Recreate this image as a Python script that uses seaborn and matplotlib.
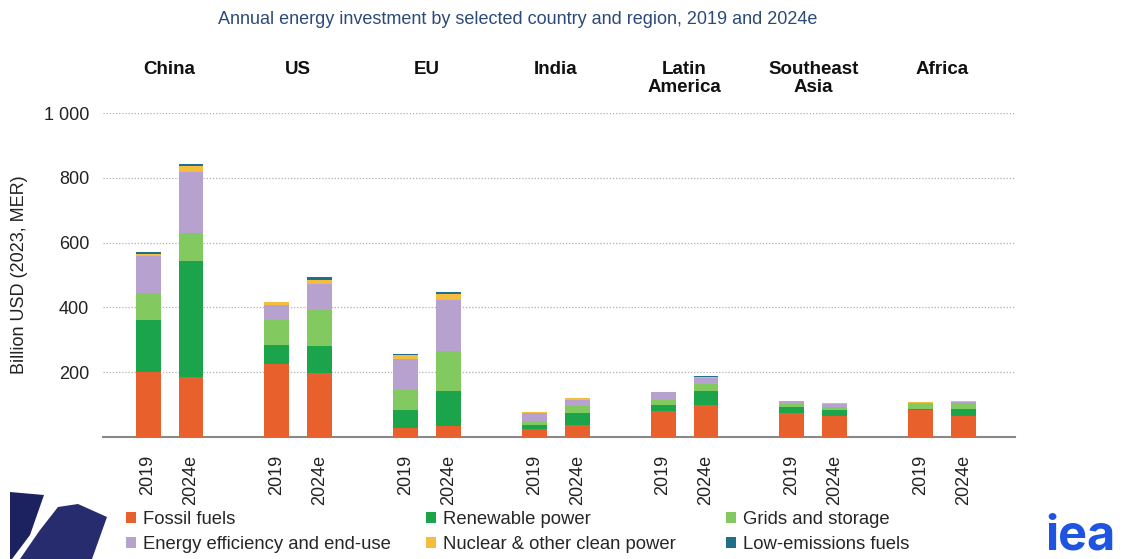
import numpy as np
import pandas as pd
import matplotlib
matplotlib.use("Agg")
import matplotlib.pyplot as plt
from matplotlib.patches import Patch, Polygon
import matplotlib.transforms as mtransforms
import seaborn as sns

# ---------------- data ----------------
regions = ["China", "US", "EU", "India", "Latin\nAmerica", "Southeast\nAsia", "Africa"]
years = ["2019", "2024e"]
categories = ["Fossil fuels", "Renewable power", "Grids and storage",
              "Energy efficiency and end-use", "Nuclear & other clean power",
              "Low-emissions fuels"]

# values per bar, order: China 2019, China 2024e, US 2019, US 2024e, ...
fossil     = [200, 185, 225, 198,  28,  35,  26,  37,  80, 100,  75,  66,  82,  66]
renewable  = [160, 357,  58,  82,  55, 108,  10,  36,  20,  43,  17,  17,   5,  21]
grids      = [ 83,  89,  77, 111,  62, 121,  14,  23,  13,  22,  11,  11,  16,  17]
efficiency = [115, 187,  47,  82,  97, 160,  25,  18,  25,  18,   8,   9,   3,   5]
nuclear    = [  8,  17,  10,  12,  12,  16,   1,   5,   2,   3,   1,   1,   1,   1]
lowem      = [  4,   8,   1,  10,   1,   6,   0,   1,   0,   1,   0,   1,   0,   0]

colors = ["#E8612C", "#1BA44B", "#82C95F", "#B7A2CF", "#F5BD3F", "#1F6F8B"]

# ---------------- build table ----------------
series = [fossil, renewable, grids, efficiency, nuclear, lowem]
rows = []
for i, r in enumerate(regions):
    for j, y in enumerate(years):
        k = i * 2 + j
        cum = 0
        for c, s in zip(categories, series):
            cum += s[k]
            rows.append({"bar": f"{r}|{y}", "region": r, "year": y,
                         "category": c, "top": cum})
df = pd.DataFrame(rows)

order = []
for i, r in enumerate(regions):
    order += [f"{r}|2019", f"{r}|2024e"]
    if i < len(regions) - 1:
        order.append(f"gap{i}")

# ---------------- figure ----------------
sns.set_theme(style="white")
plt.rcParams["font.family"] = ["Liberation Sans", "DejaVu Sans"]

fig = plt.figure(figsize=(11.42, 5.59), dpi=100)
W, H = 1142, 559
ax = fig.add_axes([103 / W, 1 - 437 / H, (1015 - 103) / W, (437 - 113) / H])

for c, col in reversed(list(zip(categories, colors))):
    sub = df[df["category"] == c]
    sns.barplot(data=sub, x="bar", y="top", order=order, color=col,
                width=0.58, saturation=1, ax=ax, linewidth=0, zorder=3)

ax.set_xlim(-1.05, len(order) + 0.2)
ax.set_ylim(0, 1000)
ax.set_yticks([200, 400, 600, 800, 1000])
ax.set_yticklabels(["200", "400", "600", "800", "1 000"], fontsize=13, color="#222222")
ax.tick_params(axis="y", length=0, pad=10)
ax.yaxis.grid(True, linestyle=(0, (1, 1.5)), color="#b0b0b0", linewidth=0.9, zorder=0)
ax.set_axisbelow(True)
for s in ["top", "right", "left"]:
    ax.spines[s].set_visible(False)
ax.spines["bottom"].set_color("#888888")
ax.spines["bottom"].set_linewidth(1.5)

tick_pos = [order.index(b) for b in order if not b.startswith("gap")]
tick_lab = [b.split("|")[1] for b in order if not b.startswith("gap")]
ax.set_xticks(tick_pos)
ax.set_xticklabels(tick_lab, rotation=90, fontsize=13, color="#222222")
ax.tick_params(axis="x", length=0, pad=13)
ax.set_xlabel("")
ax.set_ylabel("Billion USD (2023, MER)", fontsize=13, color="#222222")
ax.yaxis.set_label_coords(-(103 - 28) / (1015 - 103), 0.5)

# group labels
trans = mtransforms.blended_transform_factory(ax.transData, fig.transFigure)
for i, r in enumerate(regions):
    x = order.index(f"{r}|2019") + 0.5
    ax.text(x, 1 - 61 / H, r, transform=trans, ha="center", va="top",
            fontsize=13.5, fontweight="bold", color="#111111", linespacing=1.1)

# title
fig.text(518 / W, 1 - 20 / H, "Annual energy investment by selected country and region, 2019 and 2024e",
         ha="center", va="center", fontsize=13, color="#2B4A78")

# legend (three columns)
handles = [Patch(facecolor=c, edgecolor="none") for c in colors]
cols = [[0, 3], [1, 4], [2, 5]]
xs = [126, 426, 726]
for xcol, idx in zip(xs, cols):
    fig.legend([handles[k] for k in idx], [categories[k] for k in idx],
               loc="upper left", bbox_to_anchor=(xcol / W, 1 - 511 / H),
               frameon=False, fontsize=13.3, handlelength=0.55, handleheight=0.55,
               handletextpad=0.35, labelspacing=0.45, borderpad=0, borderaxespad=0)

# left decorative logo shapes
def px(pts):
    return [(x / W, 1 - y / H) for x, y in pts]

fig.patches.append(Polygon(px([(10, 492), (44, 495), (30, 535), (12, 559), (10, 559)]),
                           closed=True, transform=fig.transFigure,
                           facecolor="#1C2160", edgecolor="none"))
fig.patches.append(Polygon(px([(58, 507), (78, 504), (107, 517), (92, 559), (20, 559), (40, 530)]),
                           closed=True, transform=fig.transFigure,
                           facecolor="#262C6E", edgecolor="none"))

# iea logo text
fig.text(1045 / W, 1 - 536 / H, "iea", ha="left", va="center", fontsize=35,
         fontweight="bold", color="#1F54E0", family="Inter")

fig.savefig("out.png", dpi=100, facecolor="white")
